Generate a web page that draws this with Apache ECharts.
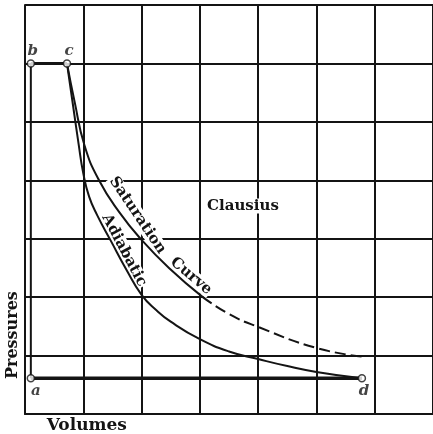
<!DOCTYPE html>
<html>
<head>
<meta charset="utf-8">
<script src="https://cdn.jsdelivr.net/npm/echarts@6/dist/echarts.min.js"></script>
<style>
  html, body { margin: 0; padding: 0; background: #fff; }
  #chart { width: 433px; height: 434px; }
</style>
</head>
<body>
<div id="chart"></div>
<script>
// Cycle diagram: pressure against volume, plotted on a 7 x 7 unit grid.
const axisMax = 7;

// State points of the cycle a-b-c-d
const stateNames = ['a', 'b', 'c', 'd'];
const stateVolume = [0.1, 0.1, 0.72, 5.78];
const statePressure = [0.61, 6.0, 6.0, 0.61];

// Adiabatic expansion from c down to d
const adiabaticVolume = [0.72, 0.82, 0.92, 1.0, 1.1, 1.24, 1.48, 1.74, 2.0, 2.25, 2.5, 3.0, 3.5, 4.0, 4.5, 5.0, 5.78];
const adiabaticPressure = [6.0, 5.31, 4.62, 4.12, 3.72, 3.4, 2.95, 2.47, 2.04, 1.78, 1.58, 1.28, 1.07, 0.94, 0.82, 0.72, 0.61];

// Saturation curve: drawn solid, then continued dashed
const saturationVolume = [0.72, 0.85, 1.02, 1.27, 1.62, 2.0, 2.47, 3.05];
const saturationPressure = [6.0, 5.35, 4.6, 4.0, 3.45, 2.98, 2.5, 2.0];
const saturationDashedVolume = [3.05, 3.5, 4.0, 5.0, 5.8];
const saturationDashedPressure = [2.0, 1.71, 1.49, 1.13, 0.98];

const zip = (xs, ys) => xs.map((x, i) => [x, ys[i]]);
const state = name => {
  const i = stateNames.indexOf(name);
  return [stateVolume[i], statePressure[i]];
};

const INK = '#141414';
const SERIF = '"DejaVu Serif", "Liberation Serif", serif';

const chart = echarts.init(document.getElementById('chart'), null, { renderer: 'canvas' });

const axisCommon = {
  type: 'value',
  min: 0,
  max: axisMax,
  interval: 1,
  axisLabel: { show: false },
  axisTick: { show: false },
  axisLine: { show: true, lineStyle: { color: INK, width: 2 } },
  splitLine: { show: true, lineStyle: { color: INK, width: 2 } }
};

const plainLine = (name, data, width, extra) => Object.assign({
  type: 'line',
  name: name,
  data: data,
  symbol: 'none',
  silent: true,
  lineStyle: { color: INK, width: width },
  z: 3
}, extra || {});

const labelFor = n => (n === 'a' || n === 'd')
  ? { position: 'bottom', distance: 1, offset: n === 'a' ? [5, 0] : [2, 0] }
  : { position: 'top', distance: 1, offset: [2, 0] };

chart.setOption({
  animation: false,
  backgroundColor: '#fff',
  grid: { left: 25, top: 5, right: -2, bottom: 20 },
  xAxis: axisCommon,
  yAxis: axisCommon,
  series: [
    plainLine('a-b', [state('a'), state('b')], 2),
    plainLine('b-c', [state('b'), state('c')], 3),
    plainLine('a-d', [state('a'), state('d')], 3.5),
    plainLine('Adiabatic', zip(adiabaticVolume, adiabaticPressure), 2, { smooth: 0.5 }),
    plainLine('Saturation Curve', zip(saturationVolume, saturationPressure), 2, { smooth: 0.5 }),
    plainLine('Saturation Curve (continued)', zip(saturationDashedVolume, saturationDashedPressure), 2,
      { smooth: 0.5, lineStyle: { color: INK, width: 2, type: [11, 5] } }),
    {
      type: 'scatter',
      name: 'States',
      data: stateNames.map(n => ({ name: n, value: state(n), label: labelFor(n) })),
      symbol: 'circle',
      symbolSize: 7,
      z: 5,
      itemStyle: { color: '#fff', borderColor: INK, borderWidth: 1.5 },
      label: {
        show: true,
        formatter: p => p.name,
        fontFamily: SERIF,
        fontStyle: 'italic',
        fontWeight: 'bold',
        fontSize: 15,
        color: INK
      }
    }
  ]
});

// Text annotations anchored in data units (centre of the text, rotation in degrees)
const annotations = [
  { text: 'Clausius', at: [3.74, 3.56], angle: 0, size: 15 },
  { text: 'Saturation', at: [1.93, 3.40], angle: -56, size: 15 },
  { text: 'Curve', at: [2.85, 2.36], angle: -40, size: 15 },
  { text: 'Adiabatic', at: [1.70, 2.80], angle: -62, size: 15 },
  { text: 'Volumes', at: [1.06, -0.19], angle: 0, size: 17 },
  { text: 'Pressures', at: [-0.2, 1.35], angle: 90, size: 16 }
];

chart.setOption({
  graphic: annotations.map(a => {
    const p = chart.convertToPixel({ gridIndex: 0 }, a.at);
    return {
      type: 'text',
      x: p[0],
      y: p[1],
      rotation: a.angle * Math.PI / 180,
      z: 1,
      silent: true,
      style: {
        text: a.text,
        x: 0,
        y: 0,
        align: 'center',
        verticalAlign: 'middle',
        font: 'bold ' + a.size + 'px ' + SERIF,
        fill: INK,
        backgroundColor: '#fff',
        padding: [0, 1]
      }
    };
  })
});
</script>
</body>
</html>
